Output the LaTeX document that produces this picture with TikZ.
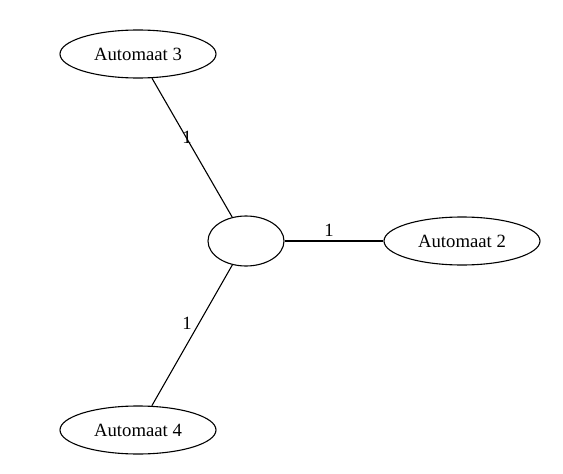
\documentclass[tikz,border=0pt]{standalone}
\usepackage{fontspec}
\setmainfont{Liberation Serif}
\usetikzlibrary{shapes.geometric}
\begin{document}
\begin{tikzpicture}[x=1pt,y=-1pt,
  state/.style={draw,ellipse,line width=1.1pt,inner sep=0pt,minimum width=156pt,minimum height=48pt,font=\fontsize{18.7}{20}\selectfont},
  hub/.style={draw,ellipse,line width=1.1pt,inner sep=0pt,minimum width=76pt,minimum height=50pt},
  edge/.style={line width=1.1pt},
  lbl/.style={font=\fontsize{18.7}{20}\selectfont,inner sep=0pt}]
\useasboundingbox (0,0) rectangle (563,474);
\node[hub] (c) at (246,241) {};
\node[state] (a3) at (138,54) {Automaat 3};
\node[state] (a2) at (462,241) {Automaat 2};
\node[state] (a4) at (138,430) {Automaat 4};
\draw[edge] (c) -- (a3);
\draw[edge] (c) -- (a2);
\draw[edge] (c) -- (a4);
\node[lbl] (l3) at (187,137) {1};
\node[lbl] (l2) at (329,230) {1};
\node[lbl] (l4) at (187,323) {1};
\end{tikzpicture}
\end{document}
